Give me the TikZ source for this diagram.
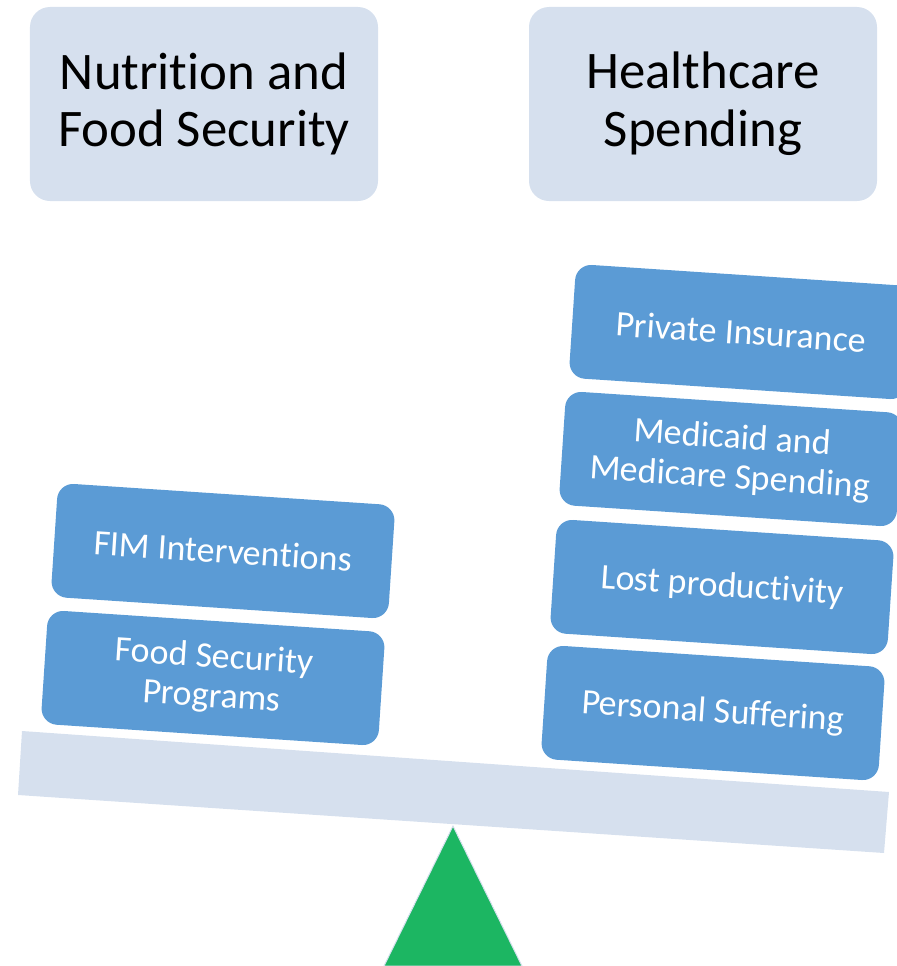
\documentclass[tikz,border=0pt]{standalone}
\usepackage{fontspec}
\setmainfont{Carlito}[RawFeature={-liga;-clig;-dlig;-calt}]
\definecolor{paleblue}{RGB}{214,224,238}
\definecolor{itemblue}{RGB}{91,155,213}
\definecolor{fulcrumgreen}{RGB}{28,182,98}
\begin{document}
\begin{tikzpicture}[x=1bp,y=-1bp,
  titlebox/.style={fill=paleblue,rounded corners=20bp,minimum width=348bp,minimum height=194bp,
    align=center,text=black,font=\fontsize{53}{58}\selectfont},
  itembox/.style={fill=itemblue,rounded corners=16bp,minimum width=338bp,minimum height=114bp,
    align=center,text=white,font=\fontsize{36}{40}\selectfont,rotate=-3.8,inner sep=0pt}]
\useasboundingbox (0,0) rectangle (897,966);
\clip (0,0) rectangle (897,966);

% headings
\node[titlebox] (nutrition) at (204,104) {Nutrition and\\Food Security};
\node[titlebox] (health) at (703,104) {Healthcare\\Spending};

% beam of the balance
\fill[paleblue] (22,731) -- (889,792) -- (884,853) -- (18,795) -- cycle;

% fulcrum
\filldraw[fill=fulcrumgreen,draw=paleblue,line width=1bp] (453,826) -- (384,966) -- (522,966) -- cycle;

% left pan
\node[itembox] (fim) at (223,551) {FIM Interventions};
\node[itembox] (foodprog) at (213,678) {Food Security\\Programs};

% right pan
\node[itembox] (private) at (741,332) {Private Insurance};
\node[itembox] (medicaid) at (731,459) {Medicaid and\\Medicare Spending};
\node[itembox] (lost) at (722,587) {Lost productivity};
\node[itembox] (personal) at (713,713) {Personal Suffering};
\end{tikzpicture}
\end{document}
